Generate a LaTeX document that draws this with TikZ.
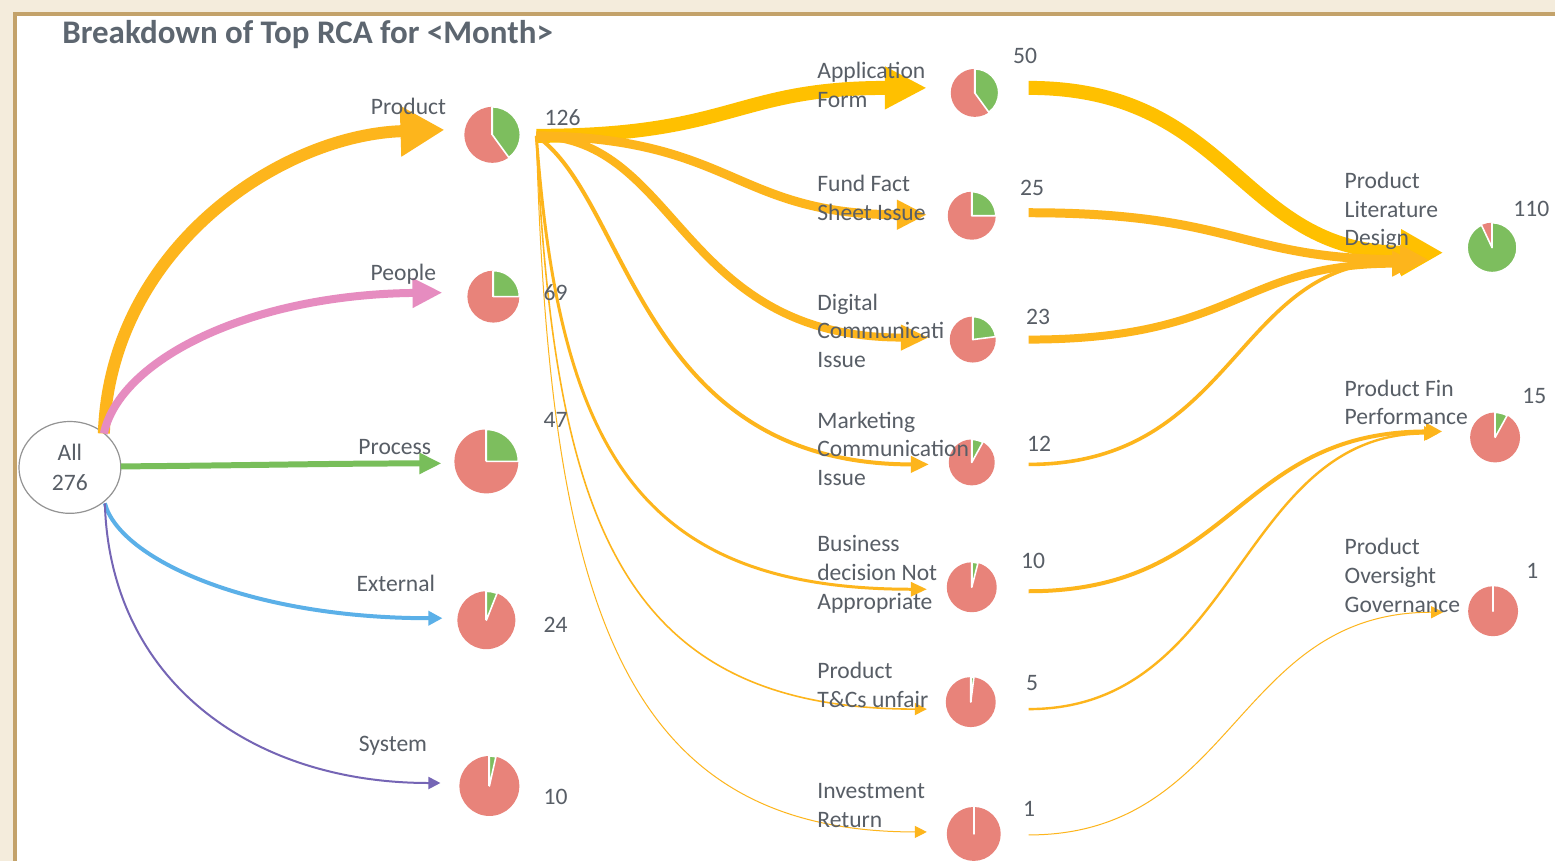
\documentclass[tikz,border=0pt]{standalone}
\usepackage{fontspec}
\setmainfont{Carlito}
\usetikzlibrary{arrows.meta,shapes.geometric}
\definecolor{bgBeige}{HTML}{F4ECDC}
\definecolor{frameTan}{HTML}{C3A26A}
\definecolor{titleGray}{HTML}{5D6670}
\definecolor{txtGray}{HTML}{585E66}
\definecolor{cOrange}{HTML}{FDB51C}
\definecolor{cGold}{HTML}{FFC000}
\definecolor{cPink}{HTML}{E68CC0}
\definecolor{cGreenLine}{HTML}{78BE5A}
\definecolor{cBlue}{HTML}{5BB0E8}
\definecolor{cPurple}{HTML}{7565B5}
\definecolor{pieRed}{HTML}{E8837A}
\definecolor{pieGreen}{HTML}{7DBE5E}
\newcommand{\mypie}[4]{%
  \node[circle, fill=pieRed, minimum size=2*#3, inner sep=0pt] (#1) at (#2) {};
  \fill[pieGreen, draw=white, line width=0.8pt, line join=round]
    (#1.center) -- ++(90:#3) arc[start angle=90, end angle=90-3.6*#4, radius=#3] -- cycle;
  \draw[white, line width=0.9pt] (#1.center) -- ++(90:#3);
}
\begin{document}
\begin{tikzpicture}[x=0.5pt,y=-0.5pt,
  lbl/.style={anchor=north west, inner sep=0pt, text=txtGray, align=left,
    font=\fontsize{11.8}{14.4}\selectfont},
  lblR/.style={lbl, anchor=north east, align=right},
  num/.style={anchor=base west, inner sep=0pt, text=txtGray,
    font=\fontsize{11.8}{14.4}\selectfont},
  flow/.style={line cap=butt, line join=round},
  tip/.style n args={2}{-{Triangle[length=#1pt,width=#2pt]}}
]
% background and frame
\fill[bgBeige] (0,0) rectangle (1557,862);
\fill[white] (15,14) rectangle (1557,862);
\draw[frameTan, line width=2pt] (15,862) -- (15,14) -- (1557,14);
\useasboundingbox (0,0) rectangle (1557,862);

\node[anchor=base west, inner sep=0pt, text=titleGray,
  font=\fontsize{16.5}{19}\selectfont\bfseries] (title) at (62,44)
  {Breakdown of Top RCA for <Month>};

% root
\node[ellipse, draw=gray!85, line width=0.6pt, fill=white, minimum width=51pt,
  minimum height=46pt, inner sep=0pt, align=center, text=txtGray,
  font=\fontsize{11.8}{15}\selectfont] (all) at (70,468) {All\\276};

% coordinates: sources and tips
\coordinate (allTop) at (104,434);
\coordinate (allRight) at (121,467);
\coordinate (allBot) at (105,504);
\coordinate (tProduct) at (445,130);
\coordinate (tPeople) at (443,293);
\coordinate (tProcess) at (442,464);
\coordinate (tExternal) at (443,619);
\coordinate (tSystem) at (441,784);
\coordinate (src) at (537,136);
\coordinate (tApp) at (928,88);
\coordinate (tFund) at (928,215);
\coordinate (tDig) at (930,338);
\coordinate (tMkt) at (930,465);
\coordinate (tBus) at (928,590);
\coordinate (tTC) at (928,710);
\coordinate (tInv) at (928,833);
\coordinate (sApp) at (1030,88);
\coordinate (sFund) at (1030,213);
\coordinate (sDig) at (1030,340);
\coordinate (sMkt) at (1030,465);
\coordinate (sBus) at (1030,592);
\coordinate (sTC) at (1030,710);
\coordinate (sInv) at (1030,836);
\coordinate (tLit1) at (1445,253);
\coordinate (tLit2) at (1430,260);
\coordinate (tLit3) at (1420,264);
\coordinate (tLit4) at (1412,262);
\coordinate (tFin1) at (1444,432);
\coordinate (tFin2) at (1440,434);
\coordinate (tOver) at (1445,613);

% level 1 connectors
\draw[flow, cOrange, line width=6pt, tip={22}{24}] (allTop) .. controls (110,250) and (280,135) .. (tProduct);
\draw[flow, cPink, line width=4pt, tip={15}{14}] (allTop) .. controls (120,360) and (250,295) .. (tPeople);
\draw[flow, cGreenLine, line width=3pt, tip={11}{10}] (allRight) .. controls (250,466) and (330,464) .. (tProcess);
\draw[flow, cBlue, line width=2pt, tip={7}{7}] (allBot) .. controls (120,560) and (250,619) .. (tExternal);
\draw[flow, cPurple, line width=1pt, tip={6}{6}] (allBot) .. controls (110,680) and (250,784) .. (tSystem);

% level 2 connectors
\draw[flow, cGold, line width=7pt, tip={21}{20}] (src) .. controls (735,136) and (735,88) .. (tApp);
\draw[flow, cOrange, line width=4.5pt, tip={15}{14}] (src) .. controls (735,138) and (735,215) .. (tFund);
\draw[flow, cOrange, line width=4pt, tip={14}{12}] (src) .. controls (680,138) and (680,338) .. (tDig);
\draw[flow, cOrange, line width=2pt, tip={9}{8}] (src) .. controls (630,200) and (640,465) .. (tMkt);
\draw[flow, cOrange, line width=1.5pt, tip={8}{7}] (src) .. controls (560,450) and (640,590) .. (tBus);
\draw[flow, cOrange, line width=0.8pt, tip={6}{6}] (src) .. controls (555,520) and (620,710) .. (tTC);
\draw[flow, cOrange, line width=0.5pt, tip={6}{6}] (src) .. controls (550,600) and (620,833) .. (tInv);

% level 3 connectors
\draw[flow, cGold, line width=7pt, tip={21}{22}] (sApp) .. controls (1235,88) and (1240,253) .. (tLit1);
\draw[flow, cOrange, line width=4.5pt, tip={14}{14}] (sFund) .. controls (1240,213) and (1240,260) .. (tLit2);
\draw[flow, cOrange, line width=4pt, tip={13}{12}] (sDig) .. controls (1240,340) and (1240,264) .. (tLit3);
\draw[flow, cOrange, line width=1.8pt, tip={8}{8}] (sMkt) .. controls (1237,465) and (1237,262) .. (tLit4);
\draw[flow, cOrange, line width=2pt, tip={8}{8}] (sBus) .. controls (1237,592) and (1237,432) .. (tFin1);
\draw[flow, cOrange, line width=1.2pt, tip={7}{7}] (sTC) .. controls (1240,710) and (1240,434) .. (tFin2);
\draw[flow, cOrange, line width=0.5pt, tip={6}{6}] (sInv) .. controls (1237,836) and (1237,613) .. (tOver);

% pies
\mypie{pProduct}{493,135}{14pt}{40}
\mypie{pPeople}{494,297}{13pt}{25}
\mypie{pProcess}{487,462}{16pt}{25}
\mypie{pExternal}{487,621}{14.5pt}{6}
\mypie{pSystem}{490,787}{15pt}{3.5}
\mypie{pApp}{976,93}{12pt}{40}
\mypie{pFund}{973,216}{12pt}{25}
\mypie{pDig}{974,340}{11.5pt}{23}
\mypie{pMkt}{973,463}{11.5pt}{8}
\mypie{pBus}{973,588}{12.5pt}{4}
\mypie{pTC}{972,703}{12.5pt}{2}
\mypie{pInv}{975,835}{13.5pt}{0}
\mypie{pLit}{1494,248}{12.5pt}{93}
\mypie{pFin}{1497,438}{12.5pt}{8}
\mypie{pOver}{1495,612}{12.5pt}{0}

% level 1 labels
\node[lblR] (lProduct) at (447,94) {\strut Product};
\node[lblR] (lPeople) at (437,260) {\strut People};
\node[lblR] (lProcess) at (432,435) {\strut Process};
\node[lblR] (lExternal) at (436,572) {\strut External};
\node[lblR] (lSystem) at (428,732) {\strut System};
\node[num] (nProduct) at (545,126) {126};
\node[num] (nPeople) at (544,301) {69};
\node[num] (nProcess) at (544,428) {47};
\node[num] (nExternal) at (544,633) {24};
\node[num] (nSystem) at (544,806) {10};

% level 2 labels
\node[lbl] (lApp) at (818,58) {\strut Application\\Form};
\node[lbl] (lFund) at (818,171) {\strut Fund Fact\\Sheet Issue};
\node[lbl] (lDig) at (818,290) {\strut Digital\\Communicati\\Issue};
\node[lbl] (lMkt) at (818,408) {\strut Marketing\\Communication\\Issue};
\node[lbl] (lBus) at (818,532) {\strut Business\\decision Not\\Appropriate};
\node[lbl] (lTC) at (818,659) {\strut Product\\T\&Cs unfair};
\node[lbl] (lInv) at (818,779) {\strut Investment\\Return};
\node[num] (nApp) at (1014,64) {50};
\node[num] (nFund) at (1021,196) {25};
\node[num] (nDig) at (1027,325) {23};
\node[num] (nMkt) at (1028,452) {12};
\node[num] (nBus) at (1022,569) {10};
\node[num] (nTC) at (1027,691) {5};
\node[num] (nInv) at (1024,818) {1};

% level 3 labels
\node[lbl] (lLit) at (1346,168) {\strut Product\\Literature\\Design};
\node[lbl] (lFin) at (1346,376) {\strut Product Fin\\Performance};
\node[lbl] (lOver) at (1346,535) {\strut Product\\Oversight\\Governance};
\node[num] (nLit) at (1515,217) {110};
\node[num] (nFin) at (1524,404) {15};
\node[num] (nOver) at (1528,579) {1};
\end{tikzpicture}
\end{document}
